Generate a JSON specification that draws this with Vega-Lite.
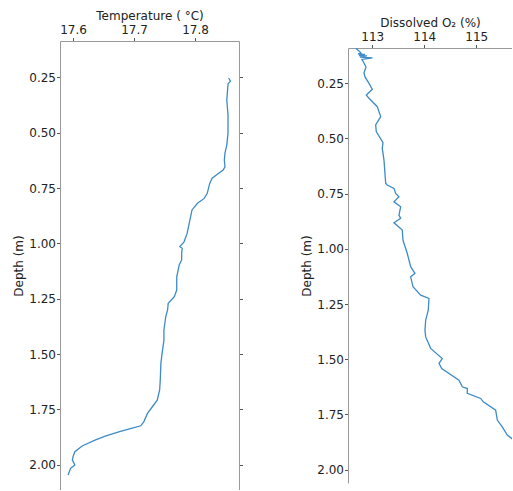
{
  "$schema": "https://vega.github.io/schema/vega-lite/v6.json",
  "padding": {"left": 12, "top": 9, "right": 0, "bottom": 0},
  "bounds": "flush",
  "center": true,
  "spacing": 109,
  "config": {
    "view": {"stroke": null},
    "font": "DejaVu Sans",
    "axis": {
      "labelFont": "DejaVu Sans",
      "titleFont": "DejaVu Sans",
      "labelFontSize": 12,
      "titleFontSize": 12,
      "titleFontWeight": "normal",
      "labelColor": "#222222",
      "titleColor": "#222222",
      "domainColor": "#999999",
      "domainWidth": 1,
      "tickColor": "#555555",
      "tickSize": 3.5,
      "labelPadding": 1,
      "grid": false
    }
  },
  "hconcat": [
    {
      "width": 179,
      "height": 449,
      "data": {
        "values": [
          {"temp": 17.855, "depth": 0.253}, {"temp": 17.858, "depth": 0.267}, {"temp": 17.854, "depth": 0.280},
          {"temp": 17.852, "depth": 0.353}, {"temp": 17.854, "depth": 0.420}, {"temp": 17.854, "depth": 0.502},
          {"temp": 17.852, "depth": 0.556}, {"temp": 17.849, "depth": 0.592}, {"temp": 17.848, "depth": 0.624},
          {"temp": 17.849, "depth": 0.654}, {"temp": 17.846, "depth": 0.669}, {"temp": 17.837, "depth": 0.687},
          {"temp": 17.828, "depth": 0.706}, {"temp": 17.824, "depth": 0.729}, {"temp": 17.820, "depth": 0.774},
          {"temp": 17.815, "depth": 0.797}, {"temp": 17.804, "depth": 0.819}, {"temp": 17.795, "depth": 0.849},
          {"temp": 17.791, "depth": 0.902}, {"temp": 17.787, "depth": 0.955}, {"temp": 17.782, "depth": 0.993},
          {"temp": 17.775, "depth": 1.015}, {"temp": 17.779, "depth": 1.022}, {"temp": 17.778, "depth": 1.045},
          {"temp": 17.778, "depth": 1.075}, {"temp": 17.774, "depth": 1.098}, {"temp": 17.770, "depth": 1.151},
          {"temp": 17.770, "depth": 1.211}, {"temp": 17.766, "depth": 1.241}, {"temp": 17.756, "depth": 1.271},
          {"temp": 17.755, "depth": 1.301}, {"temp": 17.752, "depth": 1.331}, {"temp": 17.749, "depth": 1.391},
          {"temp": 17.749, "depth": 1.437}, {"temp": 17.746, "depth": 1.497}, {"temp": 17.744, "depth": 1.542},
          {"temp": 17.743, "depth": 1.617}, {"temp": 17.742, "depth": 1.662}, {"temp": 17.738, "depth": 1.708},
          {"temp": 17.730, "depth": 1.738}, {"temp": 17.722, "depth": 1.768}, {"temp": 17.716, "depth": 1.806},
          {"temp": 17.711, "depth": 1.824}, {"temp": 17.697, "depth": 1.835}, {"temp": 17.675, "depth": 1.851},
          {"temp": 17.654, "depth": 1.870}, {"temp": 17.637, "depth": 1.888}, {"temp": 17.615, "depth": 1.915},
          {"temp": 17.603, "depth": 1.941}, {"temp": 17.600, "depth": 1.964}, {"temp": 17.599, "depth": 1.979},
          {"temp": 17.603, "depth": 2.001}, {"temp": 17.596, "depth": 2.016}, {"temp": 17.592, "depth": 2.046}
        ]
      },
      "layer": [
        {
          "mark": {"type": "line", "color": "#3d8bc7", "strokeWidth": 1.3, "clip": true},
          "encoding": {
            "x": {"field": "temp", "type": "quantitative",
              "scale": {"domain": [17.5787, 17.872], "nice": false, "zero": false},
              "axis": {"orient": "top", "title": "Temperature ( °C)", "values": [17.6, 17.7, 17.8], "format": ".1f", "titlePadding": 1}},
            "y": {"field": "depth", "type": "quantitative",
              "scale": {"domain": [0.086, 2.114], "reverse": true, "nice": false, "zero": false},
              "axis": {"orient": "left", "title": "Depth (m)", "values": [0.25, 0.5, 0.75, 1.0, 1.25, 1.5, 1.75, 2.0], "format": ".2f", "titlePadding": 3}},
            "order": {"field": "depth", "type": "quantitative"}
          }
        },
        {
          "mark": {"type": "line", "opacity": 0, "clip": true},
          "encoding": {
            "x": {"field": "temp", "type": "quantitative",
              "scale": {"domain": [17.5787, 17.872], "nice": false, "zero": false},
              "axis": {"orient": "top", "title": "Temperature ( °C)", "values": [17.6, 17.7, 17.8], "format": ".1f", "titlePadding": 1}},
            "y": {"field": "depth", "type": "quantitative",
              "scale": {"domain": [0.086, 2.114], "reverse": true, "nice": false, "zero": false},
              "axis": {"orient": "right", "title": null, "labels": false, "values": [0.25, 0.5, 0.75, 1.0, 1.25, 1.5, 1.75, 2.0]}},
            "order": {"field": "depth", "type": "quantitative"}
          }
        }
      ],
      "resolve": {"axis": {"y": "independent"}}
    },
    {
      "width": 164,
      "height": 435,
      "data": {
        "values": [
          {"o2": 112.681, "depth": 0.091}, {"o2": 112.744, "depth": 0.104}, {"o2": 112.783, "depth": 0.113},
          {"o2": 112.725, "depth": 0.117}, {"o2": 112.860, "depth": 0.119}, {"o2": 112.744, "depth": 0.124},
          {"o2": 112.898, "depth": 0.126}, {"o2": 112.763, "depth": 0.131}, {"o2": 113.004, "depth": 0.135},
          {"o2": 112.802, "depth": 0.142}, {"o2": 112.840, "depth": 0.158}, {"o2": 112.879, "depth": 0.176},
          {"o2": 112.840, "depth": 0.203}, {"o2": 112.860, "depth": 0.221}, {"o2": 112.937, "depth": 0.250},
          {"o2": 113.000, "depth": 0.277}, {"o2": 112.885, "depth": 0.303}, {"o2": 112.937, "depth": 0.318},
          {"o2": 113.096, "depth": 0.356}, {"o2": 113.162, "depth": 0.401}, {"o2": 113.065, "depth": 0.439},
          {"o2": 113.077, "depth": 0.469}, {"o2": 113.206, "depth": 0.519}, {"o2": 113.192, "depth": 0.545},
          {"o2": 113.225, "depth": 0.598}, {"o2": 113.258, "depth": 0.703}, {"o2": 113.288, "depth": 0.711},
          {"o2": 113.417, "depth": 0.726}, {"o2": 113.450, "depth": 0.749}, {"o2": 113.513, "depth": 0.764},
          {"o2": 113.417, "depth": 0.787}, {"o2": 113.546, "depth": 0.809}, {"o2": 113.513, "depth": 0.847},
          {"o2": 113.546, "depth": 0.862}, {"o2": 113.417, "depth": 0.882}, {"o2": 113.577, "depth": 0.915},
          {"o2": 113.590, "depth": 0.960}, {"o2": 113.673, "depth": 1.021}, {"o2": 113.738, "depth": 1.081},
          {"o2": 113.821, "depth": 1.111}, {"o2": 113.738, "depth": 1.127}, {"o2": 113.783, "depth": 1.172},
          {"o2": 113.931, "depth": 1.210}, {"o2": 114.090, "depth": 1.225}, {"o2": 114.077, "depth": 1.278},
          {"o2": 114.027, "depth": 1.323}, {"o2": 114.013, "depth": 1.369}, {"o2": 114.027, "depth": 1.399},
          {"o2": 114.123, "depth": 1.451}, {"o2": 114.346, "depth": 1.497}, {"o2": 114.283, "depth": 1.519},
          {"o2": 114.335, "depth": 1.542}, {"o2": 114.667, "depth": 1.595}, {"o2": 114.731, "depth": 1.625},
          {"o2": 114.827, "depth": 1.633}, {"o2": 114.827, "depth": 1.655}, {"o2": 115.085, "depth": 1.678},
          {"o2": 115.135, "depth": 1.693}, {"o2": 115.373, "depth": 1.731}, {"o2": 115.404, "depth": 1.776},
          {"o2": 115.500, "depth": 1.807}, {"o2": 115.596, "depth": 1.844}, {"o2": 115.681, "depth": 1.859},
          {"o2": 115.917, "depth": 1.894}
        ]
      },
      "mark": {"type": "line", "color": "#3d8bc7", "strokeWidth": 1.3, "clip": true},
      "encoding": {
        "x": {"field": "o2", "type": "quantitative",
          "scale": {"domain": [112.533, 115.687], "nice": false, "zero": false},
          "axis": {"orient": "top", "title": "Dissolved O₂ (%)", "values": [113, 114, 115], "format": "d", "titlePadding": 1}},
        "y": {"field": "depth", "type": "quantitative",
          "scale": {"domain": [0.09, 2.061], "reverse": true, "nice": false, "zero": false},
          "axis": {"orient": "left", "title": "Depth (m)", "values": [0.25, 0.5, 0.75, 1.0, 1.25, 1.5, 1.75, 2.0], "format": ".2f", "titlePadding": 3}},
        "order": {"field": "depth", "type": "quantitative"}
      }
    }
  ]
}
